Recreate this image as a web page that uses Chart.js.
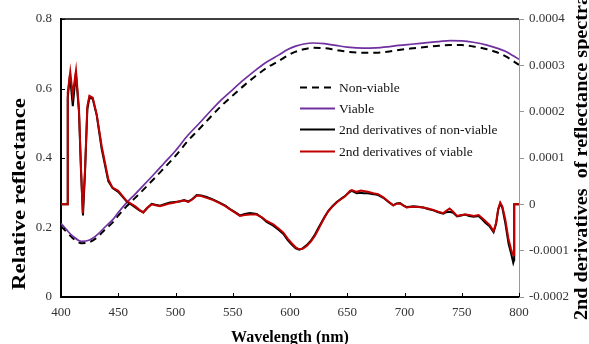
<!DOCTYPE html>
<html>
<head>
<meta charset="utf-8">
<script src="https://cdn.jsdelivr.net/npm/chart.js@4"></script>
<style>
html,body{margin:0;padding:0;background:#fff;}
#wrap{width:589px;height:344px;}
</style>
</head>
<body>
<div id="wrap"><canvas id="c" width="589" height="344"></canvas></div>
<script>
// ---------- data ----------
const seriesLabels = ["Non-viable", "Viable", "2nd derivatives of non-viable", "2nd derivatives of viable"];
const xTitle = "Wavelength (nm)";
const yLeftTitle = "Relative reflectance";
const yRightTitle = "2nd derivatives  of reflectance spectra";

const reflWl = [400,405,410,418,425,432,438,445,450,457,465,472,482,490,500,511,520,530,540,550,560,570,580,590,598,605,612,620,630,640,650,664,675,685,695,708,720,730,740,750,760,772,780,788,795,800];
const viable = [0.212,0.193,0.176,0.160,0.164,0.180,0.200,0.222,0.243,0.270,0.297,0.321,0.356,0.385,0.421,0.466,0.497,0.533,0.567,0.597,0.626,0.653,0.677,0.696,0.712,0.722,0.728,0.731,0.729,0.724,0.719,0.716,0.717,0.720,0.724,0.728,0.732,0.735,0.738,0.737,0.733,0.725,0.717,0.707,0.694,0.684];
const nonViable = [0.204,0.187,0.170,0.155,0.158,0.173,0.193,0.214,0.234,0.260,0.286,0.309,0.343,0.371,0.406,0.450,0.481,0.516,0.550,0.580,0.609,0.636,0.660,0.679,0.695,0.706,0.713,0.717,0.716,0.711,0.706,0.703,0.703,0.706,0.711,0.716,0.720,0.723,0.725,0.725,0.721,0.713,0.705,0.693,0.679,0.668];

const derivViableWl = [400,405.8,405.9,408.1,410.2,413.1,415.7,417.5,419,421,423,424.8,427.7,431.2,435.5,441.3,445,450,457.4,464.6,468.5,471.9,475,479.2,482.5,486.5,491,495.2,499.5,503.9,507.5,511.2,515,518.5,522.5,527.2,533,538.9,543.5,547.6,552,556.3,560.5,565.1,570.9,575.5,579.6,585.4,590,594.2,598,601.5,605,608.1,611,614.6,618,621.8,625,627.7,630.5,633.5,637,640.8,644.5,648,652.4,654,658.2,662,664,668,672.8,677,681.5,686,690.2,693,696,699,701.9,704.8,707.7,712,716.4,720.5,725.2,729.5,733.9,736.5,739.4,742.5,745.9,749.5,753.1,756.5,760.4,764.7,768,770.6,774.5,777.8,780,781.8,783.6,785.5,788,790.9,793,794.4,795.7,795.8,800];
const derivViable = [0,0,0.000241,0.000286,0.000237,0.000289,0.000205,0.000076,-0.000019,0.000076,0.000212,0.000234,0.000230,0.000194,0.000126,0.000054,0.000036,0.000029,0.000007,-0.000004,-0.000012,-0.000018,-0.000008,0,-0.000002,-0.000004,-0.000001,0.000002,0.000004,0.000007,0.000008,0.000005,0.000011,0.000019,0.000018,0.000014,0.000009,0.000002,-0.000004,-0.000011,-0.000018,-0.000025,-0.000023,-0.000022,-0.000022,-0.000028,-0.000036,-0.000043,-0.000052,-0.000061,-0.000074,-0.000084,-0.000093,-0.000097,-0.000096,-0.000090,-0.000081,-0.000068,-0.000053,-0.000040,-0.000027,-0.000015,-0.000005,0.000004,0.000011,0.000017,0.000029,0.000031,0.000027,0.000030,0.000029,0.000027,0.000024,0.000022,0.000015,0.000006,-0.000002,0.000001,0.000002,-0.000003,-0.000007,-0.000006,-0.000005,-0.000006,-0.000007,-0.000009,-0.000012,-0.000016,-0.000019,-0.000014,-0.000009,-0.000016,-0.000025,-0.000023,-0.000022,-0.000023,-0.000025,-0.000023,-0.000030,-0.000036,-0.000045,-0.000058,-0.000040,-0.000010,0.000004,-0.000005,-0.000032,-0.000076,-0.000096,-0.000108,-0.000110,0,0];

const derivNonViableWl = [400,405.8,405.9,407.8,410.3,413,415.7,417.5,419.2,421,423,424.8,427.7,431.2,435.5,441.3,445,450,457.4,464.6,468.5,471.9,475,479.2,482.5,486.5,491,495.2,499.5,503.9,507.5,511.2,515,518.5,522.5,527.2,533,538.9,543.5,547.6,552,556.3,560.5,565.1,570.9,575.5,579.6,585.4,590,594.2,598,601.5,605,608.1,611,614.6,618,621.8,625,627.7,630.5,633.5,637,640.8,644.5,648,652.4,654,658.2,662,664,668,672.8,677,681.5,686,690.2,693,696,699,701.9,704.8,707.7,712,716.4,720.5,725.2,729.5,733.9,736.5,739.4,742.5,745.9,749.5,753.1,756.5,760.4,764.7,768,770.6,774.5,777.8,780,781.8,783.6,785.5,788,790.9,793,795,795.7,795.8,800];
const derivNonViable = [0,0,0.000230,0.000279,0.000212,0.000283,0.000200,0.000070,-0.000024,0.000070,0.000205,0.000230,0.000228,0.000192,0.000120,0.000050,0.000035,0.000027,0.000006,-0.000006,-0.000013,-0.000017,-0.000009,0.000001,-0.000001,-0.000003,0.000001,0.000004,0.000005,0.000006,0.000009,0.000006,0.000012,0.000020,0.000019,0.000016,0.000010,0.000003,-0.000003,-0.000010,-0.000017,-0.000024,-0.000021,-0.000019,-0.000021,-0.000029,-0.000038,-0.000046,-0.000055,-0.000064,-0.000077,-0.000087,-0.000095,-0.000098,-0.000095,-0.000088,-0.000079,-0.000065,-0.000050,-0.000038,-0.000026,-0.000014,-0.000004,0.000005,0.000012,0.000018,0.000027,0.000029,0.000024,0.000025,0.000024,0.000024,0.000022,0.000020,0.000014,0.000005,-0.000002,0.000002,0.000003,-0.000002,-0.000006,-0.000005,-0.000004,-0.000005,-0.000007,-0.000010,-0.000013,-0.000017,-0.000020,-0.000017,-0.000016,-0.000018,-0.000026,-0.000024,-0.000022,-0.000025,-0.000027,-0.000025,-0.000033,-0.000040,-0.000048,-0.000060,-0.000042,-0.000012,0.000002,-0.000008,-0.000040,-0.000085,-0.000105,-0.000126,-0.000120,0,0];

const xTicks = [400,450,500,550,600,650,700,750,800];

// ---------- helpers ----------
const pts = (xs, ys) => xs.map((x, i) => ({x: x, y: ys[i]}));
const SERIF = '"Liberation Serif", "Times New Roman", serif';

const decorPlugin = {
  id: 'decor',
  afterDraw(chart) {
    const ctx = chart.ctx;
    const ca = chart.chartArea;
    const xs = chart.scales.x, yl = chart.scales.y;
    ctx.save();
    // top border
    ctx.strokeStyle = '#000';
    ctx.lineWidth = 1.5;
    ctx.beginPath(); ctx.moveTo(ca.left - 1, ca.top); ctx.lineTo(ca.right, ca.top); ctx.stroke();
    // inward ticks on x axis
    ctx.lineWidth = 1;
    xs.ticks.forEach(t => {
      const px = Math.round(xs.getPixelForValue(t.value)) + 0.5;
      ctx.beginPath(); ctx.moveTo(px, ca.bottom); ctx.lineTo(px, ca.bottom - 4); ctx.stroke();
    });
    // inward ticks on left y axis
    yl.ticks.forEach(t => {
      const py = Math.round(yl.getPixelForValue(t.value)) + 0.5;
      ctx.beginPath(); ctx.moveTo(ca.left, py); ctx.lineTo(ca.left + 4, py); ctx.stroke();
    });
    // vertical titles
    const vTitle = (text, xb, ys, px, target) => {
      ctx.save();
      ctx.font = 'bold ' + px + 'px ' + SERIF;
      const w = ctx.measureText(text).width;
      ctx.translate(xb, ys);
      ctx.rotate(-Math.PI / 2);
      ctx.scale(target / w, 1);
      ctx.fillStyle = '#000';
      ctx.textAlign = 'left';
      ctx.textBaseline = 'alphabetic';
      ctx.fillText(text, 0, 0);
      ctx.restore();
    };
    vTitle(yLeftTitle, 25, 290, 18, 192);
    vTitle(yRightTitle, 587, 320, 18, 325);
    // legend
    const rows = [87, 108, 129, 151];
    ctx.font = '13.5px ' + SERIF;
    ctx.textBaseline = 'middle';
    ctx.textAlign = 'left';
    chart.data.datasets.forEach((ds, i) => {
      const y = rows[i] + 0.5;
      ctx.strokeStyle = ds.borderColor;
      ctx.lineWidth = 2;
      ctx.setLineDash(ds.borderDash || []);
      ctx.beginPath(); ctx.moveTo(300, y); ctx.lineTo(335, y); ctx.stroke();
      ctx.setLineDash([]);
      ctx.fillStyle = '#111';
      ctx.fillText(ds.label, 339, rows[i] + 1);
    });
    ctx.restore();
  }
};

new Chart(document.getElementById('c'), {
  type: 'line',
  data: {
    datasets: [
      {label: seriesLabels[0], data: pts(reflWl, nonViable), yAxisID: 'y', borderColor: '#000', borderWidth: 2, borderDash: [7, 5], pointRadius: 0, cubicInterpolationMode: 'monotone', order: 4},
      {label: seriesLabels[1], data: pts(reflWl, viable), yAxisID: 'y', borderColor: '#7030A0', borderWidth: 1.7, pointRadius: 0, cubicInterpolationMode: 'monotone', order: 3},
      {label: seriesLabels[2], data: pts(derivNonViableWl, derivNonViable), yAxisID: 'y2', borderColor: '#000', borderWidth: 2, pointRadius: 0, tension: 0, order: 2},
      {label: seriesLabels[3], data: pts(derivViableWl, derivViable), yAxisID: 'y2', borderColor: '#C00000', borderWidth: 2, pointRadius: 0, tension: 0, order: 1}
    ]
  },
  options: {
    responsive: false,
    animation: false,
    devicePixelRatio: 1,
    layout: {padding: {top: 19, left: 0, right: 0, bottom: 0}},
    plugins: {legend: {display: false}, tooltip: {enabled: false}},
    scales: {
      x: {
        type: 'linear', min: 400, max: 800,
        afterBuildTicks: s => { s.ticks = xTicks.map(v => ({value: v})); },
        ticks: {font: {family: SERIF, size: 13}, color: '#333', padding: 8, maxRotation: 0},
        grid: {display: false, drawTicks: false},
        border: {display: true, color: '#000', width: 2},
        title: {display: true, text: xTitle, font: {family: SERIF, size: 16, weight: 'bold', lineHeight: 1}, color: '#000', padding: {top: 0, bottom: -2}},
        afterFit: s => { s.height = 47; }
      },
      y: {
        position: 'left', min: 0, max: 0.8,
        ticks: {stepSize: 0.2, font: {family: SERIF, size: 13}, color: '#333', padding: 9},
        grid: {display: false, drawTicks: false},
        border: {display: true, color: '#000', width: 2},
        afterFit: s => { s.width = 61; }
      },
      y2: {
        position: 'right', min: -0.0002, max: 0.0004,
        ticks: {stepSize: 0.0001, font: {family: SERIF, size: 13}, color: '#333', padding: 5,
          callback: v => Math.abs(v) < 1e-12 ? '0' : v.toFixed(4)},
        grid: {display: true, drawOnChartArea: false, drawTicks: true, tickLength: 5, color: '#999'},
        border: {display: true, color: '#999', width: 1},
        afterFit: s => { s.width = 70; }
      }
    }
  },
  plugins: [decorPlugin]
});
</script>
</body>
</html>
